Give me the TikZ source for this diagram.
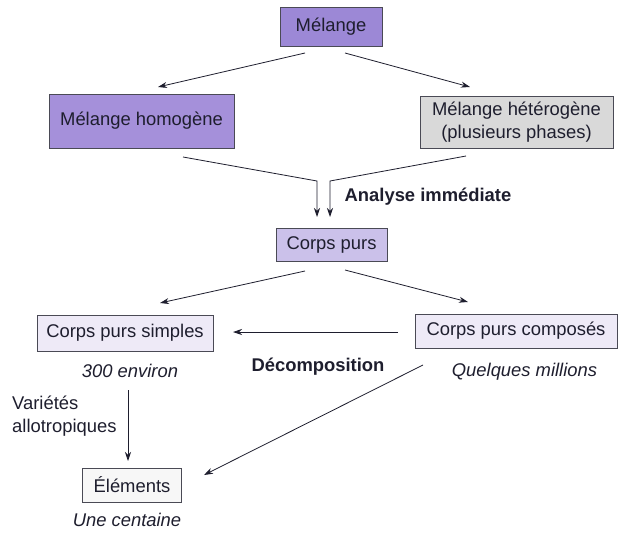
\documentclass[tikz,border=0pt]{standalone}
\usepackage{fontspec}
\setmainfont{Liberation Sans}
\usetikzlibrary{arrows.meta}
\definecolor{txt}{HTML}{1E1E2E}
\definecolor{edge}{HTML}{4A4A55}
\definecolor{purpleA}{HTML}{9C88D6}
\definecolor{purpleB}{HTML}{A590DA}
\definecolor{grayC}{HTML}{D9D9D9}
\definecolor{lavD}{HTML}{CBC1EA}
\definecolor{lavE}{HTML}{EEEAF7}
\definecolor{whiteF}{HTML}{F7F7F7}
\tikzset{
  box/.style={draw=edge, line width=0.8pt, text=txt, inner sep=0pt, align=center, font=\fontsize{18.4}{23}\selectfont},
  lbl/.style={text=txt, inner sep=0pt, font=\fontsize{18.4}{22}\selectfont},
  conn/.style={draw=txt, line width=0.8pt, -{Stealth[length=9pt,width=6pt]}}
}
\begin{document}
\begin{tikzpicture}[x=1pt,y=-1pt]
\useasboundingbox[fill=white] (0,0) rectangle (624,533);
% boxes
\node[box, fill=purpleA, minimum width=102pt, minimum height=39pt] (melange) at (331,26.5) {Mélange};
\node[box, fill=purpleB, minimum width=185pt, minimum height=54pt] (homog) at (141.5,121) {Mélange homogène};
\node[box, fill=grayC, minimum width=193pt, minimum height=52pt] (hetero) at (516.5,122) {Mélange hétérogène\\(plusieurs phases)};
\node[box, fill=lavD, minimum width=111pt, minimum height=33pt] (purs) at (331.5,244.5) {Corps purs};
\node[box, fill=lavE, minimum width=176pt, minimum height=36pt] (simples) at (125,333) {Corps purs simples};
\node[box, fill=lavE, minimum width=202pt, minimum height=34pt] (composes) at (516,331) {Corps purs composés};
\node[box, fill=whiteF, minimum width=99pt, minimum height=34pt] (elements) at (132,485) {Éléments};
% labels
\node[lbl, font=\fontsize{18.4}{22}\selectfont\bfseries] (analyse) at (428,197) {Analyse immédiate};
\node[lbl, font=\fontsize{18.4}{22}\selectfont\itshape] (env) at (130,371) {300 environ};
\node[lbl, font=\fontsize{18.4}{22}\selectfont\bfseries] (decomp) at (318,367) {Décomposition};
\node[lbl, font=\fontsize{18.4}{22}\selectfont\itshape] (millions) at (524.5,372) {Quelques millions};
\node[lbl, anchor=west, align=left, font=\fontsize{18.4}{23}\selectfont] (varietes) at (12,416) {Variétés\\allotropiques};
\node[lbl, font=\fontsize{18.4}{22}\selectfont\itshape] (centaine) at (127,520) {Une centaine};
% connector coordinates
\coordinate (m1) at (305,53);
\coordinate (m1t) at (158,87);
\coordinate (m2) at (345,53);
\coordinate (m2t) at (470,87);
\coordinate (h1) at (183,157);
\coordinate (h1k) at (317,181);
\coordinate (h1t) at (317,217);
\coordinate (h2) at (466,156);
\coordinate (h2k) at (330,181);
\coordinate (h2t) at (330,217);
\coordinate (p1) at (305,271);
\coordinate (p1t) at (160,303);
\coordinate (p2) at (345,270);
\coordinate (p2t) at (468,302);
\coordinate (c1) at (398,332);
\coordinate (c1t) at (233,332);
\coordinate (c2) at (423,365);
\coordinate (c2t) at (204,475);
\coordinate (s1) at (128,390);
\coordinate (s1t) at (128,461);
% connectors
\draw[conn] (m1) -- (m1t);
\draw[conn] (m2) -- (m2t);
\draw[conn] (h1) -- (h1k) -- (h1t);
\draw[conn] (h2) -- (h2k) -- (h2t);
\draw[conn] (p1) -- (p1t);
\draw[conn] (p2) -- (p2t);
\draw[conn] (c1) -- (c1t);
\draw[conn] (c2) -- (c2t);
\draw[conn] (s1) -- (s1t);
\end{tikzpicture}
\end{document}
